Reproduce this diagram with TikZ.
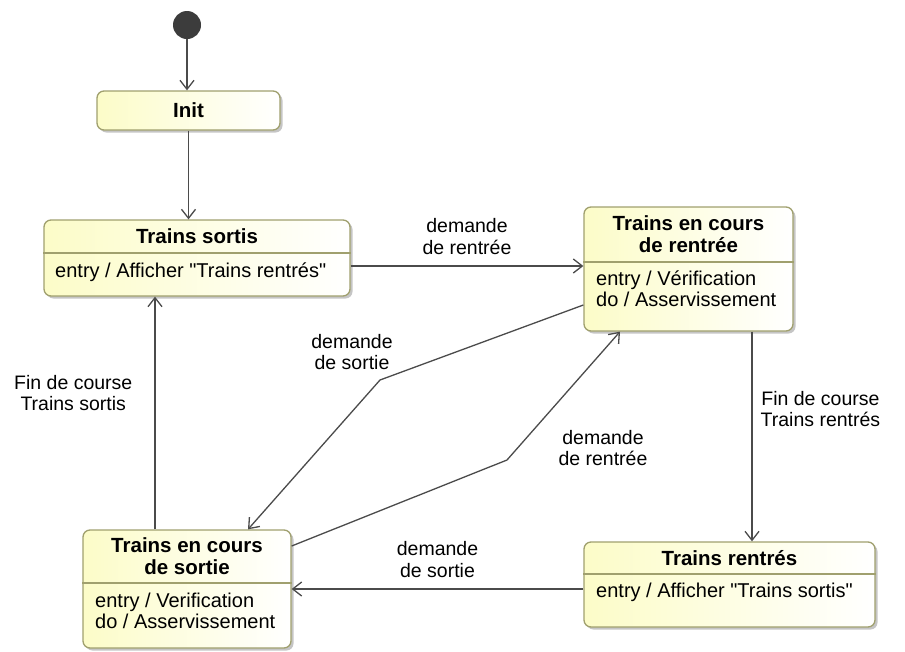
\documentclass[tikz,border=0pt]{standalone}
\usepackage{fontspec}
\setmainfont{Liberation Sans}
\usetikzlibrary{arrows.meta}
\usetikzlibrary{shadows}
\usetikzlibrary{positioning}
\definecolor{stateyellow}{RGB}{252,252,200}
\definecolor{stateborder}{RGB}{160,160,110}
\definecolor{linegray}{RGB}{75,75,75}
\definecolor{startgray}{RGB}{60,60,60}

\begin{document}
\begin{tikzpicture}[x=1pt,y=-1pt,
		state/.style={draw=stateborder, line width=1.3pt, rounded corners=7pt, left color=stateyellow, right color=white, drop shadow={shadow xshift=2.5pt, shadow yshift=-2.5pt, fill=black!45, opacity=.5}, inner sep=0pt},
		title/.style={font=\fontsize{20.5}{22}\selectfont\bfseries, align=center, inner sep=0pt},
		body/.style={font=\fontsize{20}{21}\selectfont, align=left, inner sep=0pt, anchor=west},
		lbl/.style={font=\fontsize{19.5}{21.5}\selectfont, align=center, inner sep=0pt},
		trans/.style={draw=linegray, line width=1.3pt, -{Straight Barb[length=9pt,width=14pt]}},
		divider/.style={draw=stateborder, line width=1.1pt}]
		\useasboundingbox (0,0) rectangle (905,651);

		\node[circle, fill=startgray, minimum size=28pt, inner sep=0pt] (start) at (187,25) {};
		\node[state, minimum width=183pt, minimum height=39pt, font=\fontsize{20.5}{22}\selectfont\bfseries] (init) at (188.5,110.5) {Init};

		\node[state, minimum width=306pt, minimum height=76pt] (sortis) at (197,258) {};
		\node[title] (sortistitle) at (197,236) {Trains sortis};
		\draw[divider] (sortis.west |- 0,253) -- (sortis.east |- 0,253);
		\node[body] (sortisbody) at (55,272) {entry / Afficher \textquotedbl Trains rentrés\textquotedbl};

		\node[state, minimum width=209pt, minimum height=124pt] (rentree) at (688.5,269) {};
		\node[title] (rentreetitle) at (688.5,234) {Trains en cours\\de rentrée};
		\draw[divider] (rentree.west |- 0,262) -- (rentree.east |- 0,262);
		\node[body] (rentreebody) at (596,289) {entry / Vérification\\do / Asservissement};

		\node[state, minimum width=208pt, minimum height=118pt] (sortie) at (187,589) {};
		\node[title] (sortietitle) at (187,556) {Trains en cours\\de sortie};
		\draw[divider] (sortie.west |- 0,583) -- (sortie.east |- 0,583);
		\node[body] (sortiebody) at (95,611) {entry / Verification\\do / Asservissement};

		\node[state, minimum width=291pt, minimum height=85pt] (rentres) at (729.5,584.5) {};
		\node[title] (rentrestitle) at (729.5,558) {Trains rentrés};
		\draw[divider] (rentres.west |- 0,574) -- (rentres.east |- 0,574);
		\node[body] (rentresbody) at (596,592) {entry / Afficher \textquotedbl Trains sortis\textquotedbl};

		\coordinate (bendA) at (380,380);
		\coordinate (bendB) at (507,460);

		\draw[trans] (start.south) -- (start.south |- init.north);
		\draw[trans] (init.south) -- (init.south |- sortis.north);
		\draw[trans] (sortis.east |- 0,266) -- (rentree.west |- 0,266) node[lbl, midway, above=11pt] {demande\\de rentrée};
		\draw[trans] (rentree.south -| 752,0) -- (rentres.north -| 752,0) node[lbl, pos=.37, right=8pt] {Fin de course\\Trains rentrés};
		\draw[trans] (rentres.west |- 0,589) -- (sortie.east |- 0,589) node[lbl, midway, above=11pt] {demande\\de sortie};
		\draw[trans] (sortie.north -| 155,0) -- (sortis.south -| 155,0) node[lbl, pos=.585, left=22pt] {Fin de course\\Trains sortis};
		\draw[trans] (rentree.west |- 0,305) -- (bendA) -- (sortie.north -| 248,0);
		\draw[trans] (sortie.east |- 0,546) -- (bendB) -- (rentree.south -| 620,0);
		\node[lbl] (lblsortie) at (352,352) {demande\\de sortie};
		\node[lbl] (lblrentree) at (603,448) {demande\\de rentrée};
	\end{tikzpicture}
\end{document}
